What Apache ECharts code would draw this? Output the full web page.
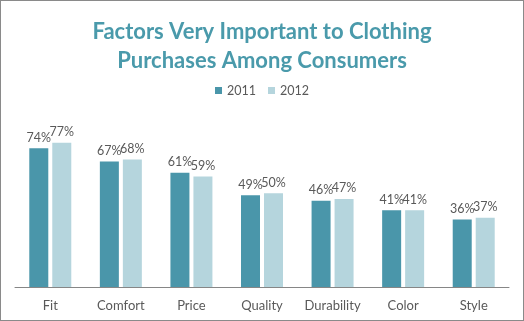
<!DOCTYPE html>
<html><head><meta charset="utf-8">
<script src="https://cdn.jsdelivr.net/npm/echarts@6/dist/echarts.min.js"></script>
<style>html,body{margin:0;padding:0;background:#fff}#c{width:524px;height:321px;box-sizing:border-box;border:1px solid #8a8a8a}</style>
</head><body><div id="c"></div>
<script>
const categories = ['Fit','Comfort','Price','Quality','Durability','Color','Style'];
const s2011 = [74,67,61,49,46,41,36];
const s2012 = [77,68,59,50,47,41,37];
const seriesNames = ['2011','2012'];
const chart = echarts.init(document.getElementById('c'));
const lbl = {show:true, position:'top', distance:4, formatter:'{c}%', color:'#595959', fontSize:12.5, fontFamily:'Lato'};
chart.setOption({
  animation:false,
  title:{text:'Factors Very Important to Clothing\nPurchases Among Consumers', left:'center', top:11,
    textStyle:{color:'#4a9aab', fontSize:22, fontWeight:'bold', fontFamily:'Lato', lineHeight:29}},
  legend:{data:seriesNames, top:78, left:'center', itemWidth:7, itemHeight:7, itemGap:12,
    textStyle:{color:'#595959', fontSize:12.5, fontFamily:'Lato'}, icon:'rect'},
  grid:{left:14, right:14, top:136, bottom:33},
  xAxis:{type:'category', data:categories, axisTick:{show:false},
    axisLine:{lineStyle:{color:'#868686'}},
    axisLabel:{color:'#595959', fontSize:13, fontFamily:'Lato', margin:12, interval:0}},
  yAxis:{type:'value', min:0, max:80, show:false, splitLine:{show:false}},
  series:[
    {name:'2011', type:'bar', data:s2011, barWidth:19, barGap:'21%', itemStyle:{color:'#4a96aa'}, label:lbl},
    {name:'2012', type:'bar', data:s2012, barWidth:19, itemStyle:{color:'#b5d5dd'}, label:lbl}
  ]
});
</script></body></html>
